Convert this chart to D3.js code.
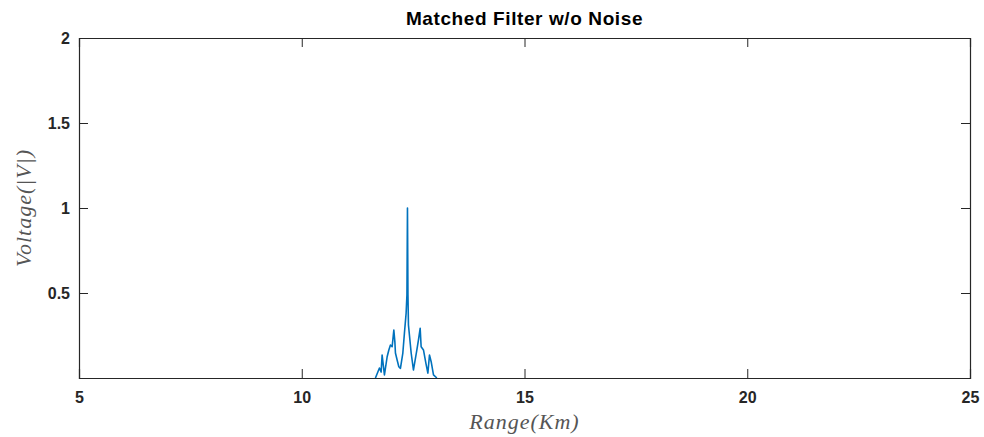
<!DOCTYPE html>
<html>
<head>
<meta charset="utf-8">
<script src="https://cdn.jsdelivr.net/npm/d3@7/dist/d3.min.js"></script>
<style>
  html, body { margin: 0; padding: 0; background: #fff; }
  svg { display: block; }
</style>
</head>
<body>
<svg id="chart" width="984" height="437"></svg>
<script>
// Matched filter output magnitude vs. range
const rangeKm = [
  11.654, 11.744, 11.782, 11.804, 11.856, 11.917, 11.955, 11.991, 12.029, 12.067,
  12.090, 12.103, 12.141, 12.179, 12.215, 12.269, 12.305, 12.343, 12.361, 12.373,
  12.384, 12.395, 12.456, 12.507, 12.584, 12.620, 12.658, 12.680, 12.732, 12.786,
  12.831, 12.867, 12.905, 12.957, 13.033
];
const voltage = [
  0.000, 0.059, 0.035, 0.135, 0.018, 0.125, 0.165, 0.194, 0.184, 0.282,
  0.214, 0.147, 0.106, 0.066, 0.057, 0.147, 0.265, 0.382, 0.488, 1.000,
  0.488, 0.312, 0.147, 0.047, 0.165, 0.224, 0.292, 0.184, 0.165, 0.088,
  0.029, 0.135, 0.096, 0.018, 0.000
];
const xTicks = [5, 10, 15, 20, 25];
const yTicks = [0, 0.5, 1, 1.5, 2];
const yTickLabels = ["", "0.5", "1", "1.5", "2"];
const titleText = "Matched Filter w/o Noise";

const svg = d3.select("#chart");
const L = 79, R = 970, T = 38, B = 378;
const axisColor = "#262626";
const tickLen = 9;

const x = d3.scaleLinear().domain([5, 25]).range([L, R]);
const y = d3.scaleLinear().domain([0, 2]).range([B, T]);

const tickFont = "'Liberation Sans', Arial, Helvetica, sans-serif";

// data line
const pts = rangeKm.map((r, i) => [r, voltage[i]]);
svg.append("path")
  .datum(pts)
  .attr("fill", "none")
  .attr("stroke", "#0072BD")
  .attr("stroke-width", 1.6)
  .attr("stroke-linejoin", "round")
  .attr("d", d3.line().x(d => x(d[0])).y(d => y(d[1])));

// bottom axis (ticks inward)
const gx = svg.append("g").attr("transform", `translate(0,${B})`)
  .call(d3.axisBottom(x).tickValues(xTicks).tickSize(-tickLen).tickPadding(18).tickFormat(d3.format("d")));
// top axis
const gxt = svg.append("g").attr("transform", `translate(0,${T})`)
  .call(d3.axisTop(x).tickValues(xTicks).tickSize(-tickLen).tickFormat(""));
// left axis
const gy = svg.append("g").attr("transform", `translate(${L},0)`)
  .call(d3.axisLeft(y).tickValues(yTicks).tickSize(-tickLen).tickPadding(18)
    .tickFormat((d, i) => yTickLabels[i]));
// right axis
const gyr = svg.append("g").attr("transform", `translate(${R},0)`)
  .call(d3.axisRight(y).tickValues(yTicks).tickSize(-tickLen).tickFormat(""));

[gx, gxt, gy, gyr].forEach(g => {
  g.select(".domain").attr("stroke", axisColor).attr("stroke-width", 1.2);
  g.selectAll(".tick line").attr("stroke", axisColor).attr("stroke-width", 1);
  g.selectAll(".tick text")
    .attr("fill", axisColor)
    .style("font-family", tickFont)
    .style("font-size", "16px")
    .style("font-weight", "bold");
});
gx.selectAll(".tick text").attr("dy", "0.71em").attr("y", 14);
gy.selectAll(".tick text").attr("x", -9);

// title
svg.append("text")
  .attr("x", (L + R) / 2)
  .attr("y", 25)
  .attr("text-anchor", "middle")
  .attr("fill", "#000")
  .style("font-family", tickFont)
  .style("font-size", "19px")
  .style("font-weight", "bold")
  .style("letter-spacing", "0.6px")
  .text(titleText);

// axis labels (math italic serif)
const mathFont = "'Liberation Serif', 'DejaVu Serif', serif";
svg.append("text")
  .attr("x", (L + R) / 2)
  .attr("y", 429)
  .attr("text-anchor", "middle")
  .attr("fill", "#555")
  .style("font-family", mathFont)
  .style("font-style", "italic")
  .style("font-size", "22px")
  .style("letter-spacing", "1px")
  .text("Range(Km)");

svg.append("text")
  .attr("transform", `translate(31,${(T + B) / 2}) rotate(-90)`)
  .attr("text-anchor", "middle")
  .attr("fill", "#555")
  .style("font-family", mathFont)
  .style("font-style", "italic")
  .style("font-size", "22px")
  .style("letter-spacing", "1px")
  .text("Voltage(|V|)");
</script>
</body>
</html>
